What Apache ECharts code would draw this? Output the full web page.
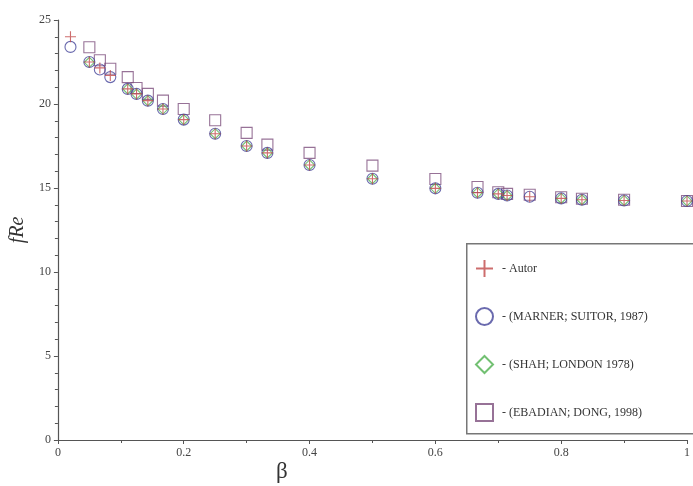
<!DOCTYPE html>
<html>
<head>
<meta charset="utf-8">
<script src="https://cdn.jsdelivr.net/npm/echarts@6/dist/echarts.min.js"></script>
<style>
html,body{margin:0;padding:0;background:#fff;}
#chart{width:693px;height:486px;}
</style>
</head>
<body>
<div id="chart"></div>
<script>
// Data
const beta = [0.02, 0.05, 0.0667, 0.0833, 0.111, 0.125, 0.143, 0.167, 0.2, 0.25, 0.3, 0.333, 0.4, 0.5, 0.6, 0.667, 0.7, 0.714, 0.75, 0.8, 0.833, 0.9, 1.0];
const autor = [24.0, 22.5, 22.15, 21.7, 20.9, 20.6, 20.2, 19.7, 19.07, 18.23, 17.5, 17.09, 16.37, 15.55, 14.98, 14.72, 14.65, 14.55, 14.48, 14.38, 14.3, 14.26, 14.23];
const marner = [23.4, 22.5, 22.05, 21.6, 20.9, 20.6, 20.2, 19.7, 19.07, 18.23, 17.5, 17.09, 16.37, 15.55, 14.98, 14.72, 14.65, 14.55, 14.48, 14.38, 14.3, 14.26, 14.23];
const shah = [null, 22.48, null, null, 20.9, 20.59, 20.2, 19.7, 19.07, 18.23, 17.5, 17.09, 16.37, 15.55, 14.98, 14.72, 14.65, 14.55, null, 14.38, 14.3, 14.26, 14.23];
const ebadian = [null, 23.38, 22.6, 22.1, 21.6, 20.95, 20.6, 20.2, 19.7, 19.03, 18.28, 17.58, 17.09, 16.33, 15.54, 15.06, 14.75, 14.65, 14.6, 14.45, 14.36, 14.3, 14.23];
const seriesNames = ['- Autor', '- (MARNER; SUITOR, 1987)', '- (SHAH; LONDON 1978)', '- (EBADIAN; DONG, 1998)'];
const xTicks = [0, 0.2, 0.4, 0.6, 0.8, 1];
const yTicks = [0, 5, 10, 15, 20, 25];

function pairs(vals) {
  const out = [];
  for (let i = 0; i < beta.length; i++) if (vals[i] != null) out.push([beta[i], vals[i]]);
  return out;
}

const crossPath = 'path://M0,5L10,5M5,0L5,10';
const serif = '"Liberation Serif", "DejaVu Serif", serif';
const axisColor = '#555';

const chart = echarts.init(document.getElementById('chart'), null, {renderer: 'canvas'});
chart.setOption({
  backgroundColor: '#fff',
  animation: false,
  grid: {left: 56, top: 20, width: 637, height: 420, containLabel: false},
  xAxis: {
    type: 'value', min: 0, max: 1, interval: 0.2,
    axisLine: {onZero: false, lineStyle: {color: axisColor, width: 1.2}},
    axisTick: {show: true, length: 4, lineStyle: {color: axisColor}},
    minorTick: {show: true, splitNumber: 2, length: 3, lineStyle: {color: axisColor}},
    splitLine: {show: false},
    axisLabel: {
      color: '#444', fontFamily: serif, fontSize: 12, margin: 7,
      formatter: v => (xTicks.indexOf(+v.toFixed(1)) >= 0 ? String(+v.toFixed(1)) : '')
    }
  },
  yAxis: {
    type: 'value', min: 0, max: 25, interval: 5,
    name: 'fRe', nameLocation: 'middle', nameGap: 22,
    nameTextStyle: {fontFamily: serif, fontStyle: 'italic', fontSize: 20, color: '#333'},
    axisLine: {show: true, onZero: false, lineStyle: {color: axisColor, width: 1.2}},
    axisTick: {show: true, length: 4, lineStyle: {color: axisColor}},
    minorTick: {show: true, splitNumber: 5, length: 3, lineStyle: {color: axisColor}},
    splitLine: {show: false},
    axisLabel: {color: '#444', fontFamily: serif, fontSize: 12, margin: 7,
      formatter: v => (yTicks.indexOf(v) >= 0 ? String(v) : '')}
  },
  legend: {
    orient: 'vertical', left: 470, top: 254,
    itemWidth: 17, itemHeight: 17, itemGap: 29,
    textStyle: {fontFamily: serif, fontSize: 12, color: '#333', padding: [0, 0, 0, 4]},
    data: [
      {name: seriesNames[0], icon: crossPath},
      {name: seriesNames[1], icon: 'circle'},
      {name: seriesNames[2], icon: 'diamond'},
      {name: seriesNames[3], icon: 'rect'}
    ]
  },
  graphic: [
    {type: 'rect', left: 466, top: 243, z: 0,
      shape: {width: 240, height: 190},
      style: {fill: '#fff', stroke: '#777', lineWidth: 1.5}},
    {type: 'text', left: 276, top: 460,
      style: {text: 'β', fontFamily: serif, fontSize: 23, fill: '#333'}}
  ],
  series: [
    {name: seriesNames[0], type: 'scatter', z: 5, symbol: crossPath, symbolSize: 11,
      itemStyle: {color: 'transparent', borderColor: '#c04848', borderWidth: 1.1},
      data: pairs(autor)},
    {name: seriesNames[1], type: 'scatter', z: 4, symbol: 'circle', symbolSize: 11,
      itemStyle: {color: 'transparent', borderColor: '#45459a', borderWidth: 1.1},
      data: pairs(marner)},
    {name: seriesNames[2], type: 'scatter', z: 3, symbol: 'diamond', symbolSize: 10,
      itemStyle: {color: 'transparent', borderColor: '#4fb04f', borderWidth: 1.1},
      data: pairs(shah)},
    {name: seriesNames[3], type: 'scatter', z: 2, symbol: 'rect', symbolSize: 11,
      itemStyle: {color: 'transparent', borderColor: '#7d4f7d', borderWidth: 1.1},
      data: pairs(ebadian)}
  ]
});
</script>
</body>
</html>
